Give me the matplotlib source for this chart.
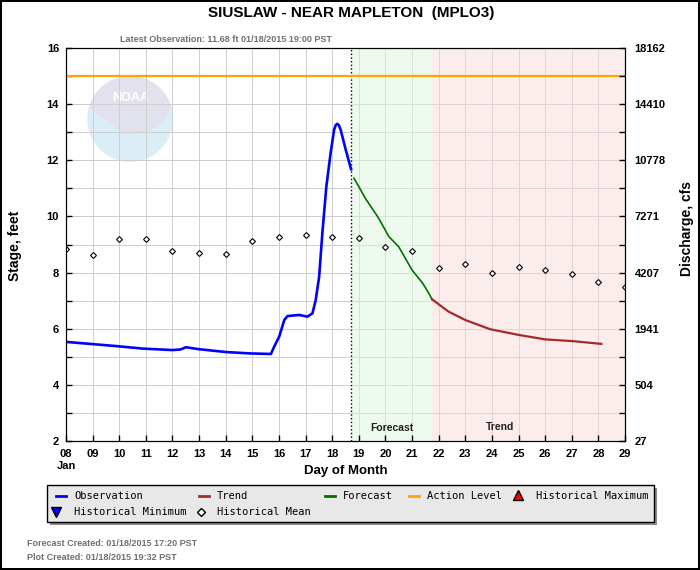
import matplotlib
matplotlib.use("Agg")
import matplotlib.pyplot as plt
import numpy as np
from matplotlib.patches import Ellipse, Polygon, Rectangle
from matplotlib.lines import Line2D

plt.rcParams['font.family'] = ['Liberation Sans', 'DejaVu Sans']

obs_day = [8.0, 8.9, 9.9, 10.9, 12.0, 12.3, 12.5, 13.0, 14.0, 14.9, 15.7, 15.82,
           16.01, 16.2, 16.32, 16.76, 17.07, 17.26, 17.38, 17.51, 17.63, 17.78,
           17.94, 18.07, 18.13, 18.19, 18.25, 18.32, 18.51, 18.71]
obs_stage = [5.53, 5.46, 5.38, 5.29, 5.24, 5.26, 5.34, 5.27, 5.17, 5.12, 5.10, 5.36,
             5.72, 6.31, 6.45, 6.49, 6.43, 6.55, 7.02, 7.85, 9.40, 11.06,
             12.25, 13.08, 13.25, 13.30, 13.25, 13.08, 12.37, 11.68]

fcst_day = [18.82, 19.25, 19.75, 20.13, 20.5, 21.0, 21.4, 21.63, 21.75]
fcst_stage = [11.36, 10.64, 9.93, 9.28, 8.92, 8.09, 7.62, 7.26, 7.05]

trend_day = [21.75, 22.0, 22.37, 23.0, 23.94, 25.0, 26.0, 27.0, 28.11]
trend_stage = [7.05, 6.87, 6.61, 6.31, 5.98, 5.78, 5.62, 5.56, 5.46]

mean_day = list(range(8, 30))
mean_stage = [8.84, 8.63, 9.20, 9.20, 8.77, 8.70, 8.66, 9.12, 9.27, 9.34, 9.27,
              9.23, 8.91, 8.77, 8.16, 8.29, 8.00, 8.19, 8.08, 7.94, 7.65, 7.50]

action_level = 15.0
last_obs_day = 18.71
fcst_end_day = 21.75

stage_ticks = [2, 4, 6, 8, 10, 12, 14, 16]
flow_labels = ['27', '504', '1941', '4207', '7271', '10778', '14410', '18162']
day_ticks = list(range(8, 30))

W, H = 700, 570
fig = plt.figure(figsize=(W / 100, H / 100), dpi=100)
fig.patch.set_edgecolor('black')
fig.patch.set_linewidth(1.5)

ax = fig.add_axes([66 / W, 1 - 441 / H, (625 - 66) / W, (441 - 48) / H])
ax.set_xlim(8, 29)
ax.set_ylim(2, 16)
ax.set_xticks(day_ticks)
ax.set_xticklabels(['%02d' % d for d in day_ticks])
ax.set_yticks(stage_ticks)
ax.set_yticks(range(2, 17), minor=True)
ax.tick_params(which='both', direction='in', length=4, width=1, labelsize=8)
ax.tick_params(axis='x', pad=6)
ax.tick_params(axis='y', pad=5)
for lab in ax.get_xticklabels() + ax.get_yticklabels():
    lab.set_fontweight('bold')

# faint NOAA logo
cx, cy = 10.41, 13.47
rx, ry = 1.61, 1.53
ax.add_patch(Ellipse((cx, cy), 2 * rx, 2 * ry, color='#dbeef7', lw=0, zorder=0.6))
t = np.linspace(0.08 * np.pi, 0.92 * np.pi, 40)
cap = [(cx + rx * np.cos(a), cy + ry * np.sin(a)) for a in t]
cap += [(cx - 0.9, cy - 0.05), (cx - 0.2, cy - 0.55), (cx + 0.6, cy - 0.5),
        (cx + 1.2, cy - 0.1)]
ax.add_patch(Polygon(cap, color='#e1e2ee', lw=0, zorder=0.65))
ax.text(cx, cy + 0.75, 'NOAA', color='white', fontsize=9, fontweight='bold',
        ha='center', va='center', zorder=0.7)

# grid: crisp one-pixel lines under the shading
ax.vlines(day_ticks, 2, 16, colors='#cfcfcf', lw=0.72, zorder=0.9,
          antialiased=False)
ax.hlines(range(3, 16), 8, 29, colors='#cfcfcf', lw=0.72, zorder=0.9,
          antialiased=False)

ax2 = ax.twinx()
ax2.set_ylim(2, 16)
ax2.set_yticks(stage_ticks)
ax2.set_yticks(range(2, 17), minor=True)
ax2.set_yticklabels(flow_labels, fontweight='bold')
ax2.tick_params(which='both', direction='in', length=4, width=1, labelsize=8, pad=7)

# shading for forecast / trend periods
ax.axvspan(last_obs_day, fcst_end_day, color='#dff6df', alpha=0.5, lw=0, zorder=1)
ax.axvspan(fcst_end_day, 29, color='#f9d9d9', alpha=0.45, lw=0, zorder=1)
ax.axvline(last_obs_day, color='black', ls=':', lw=1, zorder=3)

ax.axhline(action_level, color='#ffa500', lw=1.6, zorder=4)
ax.plot(obs_day, obs_stage, color='#0000ff', lw=1.9, zorder=5)
ax.plot(fcst_day, fcst_stage, color='#007000', lw=1.2, zorder=5)
ax.plot(trend_day, trend_stage, color='#a52a2a', lw=1.6, zorder=5)
ax.plot(mean_day, mean_stage, ls='none', marker='D', ms=3.0, mfc='white',
        mec='black', mew=0.8, zorder=6)

ax.text(20.25, 2.45, 'Forecast', fontsize=7.5, fontweight='bold', ha='center',
        va='center', color='#202020')
ax.text(24.3, 2.5, 'Trend', fontsize=7.5, fontweight='bold', ha='center',
        va='center', color='#202020')

# titles and axis labels
fig.text(351 / W, 1 - 13 / H, 'SIUSLAW - NEAR MAPLETON  (MPLO3)', fontsize=11,
         fontweight='bold', ha='center', va='center')
fig.text(226 / W, 1 - 40 / H, 'Latest Observation: 11.68 ft 01/18/2015 19:00 PST',
         fontsize=6.5, fontweight='bold', color='#707070', ha='center', va='center')
fig.text(66 / W, 1 - 466 / H, 'Jan', fontsize=8, fontweight='bold', ha='center',
         va='center')
fig.text(346 / W, 1 - 471 / H, 'Day of Month', fontsize=9.5, fontweight='bold',
         ha='center', va='center')
fig.text(15 / W, 1 - 246 / H, 'Stage, feet', fontsize=10, fontweight='bold',
         rotation=90, ha='center', va='center')
fig.text(687 / W, 1 - 228 / H, 'Discharge, cfs', fontsize=10, fontweight='bold',
         rotation=90, ha='center', va='center')

# legend box drawn by hand
fig.patches.append(Rectangle((50 / W, 1 - 525 / H), 607 / W, 37 / H,
                             transform=fig.transFigure, color='#8c8c8c', lw=0))
fig.patches.append(Rectangle((47 / W, 1 - 522 / H), 607 / W, 37 / H,
                             transform=fig.transFigure, facecolor='#e8e8e8',
                             edgecolor='black', lw=1))

def leg_line(x, y, color):
    fig.lines.append(Line2D([x / W, (x + 10) / W], [1 - y / H, 1 - y / H],
                            transform=fig.transFigure, color=color, lw=2))

def leg_mark(x, y, marker, fc, ec, ms):
    fig.lines.append(Line2D([x / W], [1 - y / H], transform=fig.transFigure,
                            marker=marker, mfc=fc, mec=ec, ms=ms, ls='none'))

def leg_text(x, y, s):
    fig.text(x / W, 1 - y / H, s, fontsize=7.5, family='DejaVu Sans Mono',
             ha='left', va='center')

leg_line(56, 496, '#0000ff'); leg_text(74, 496, 'Observation')
leg_line(199, 496, '#a52a2a'); leg_text(217, 496, 'Trend')
leg_line(325, 496, '#007000'); leg_text(343, 496, 'Forecast')
leg_line(409, 496, '#ffa500'); leg_text(427, 496, 'Action Level')
leg_mark(518, 495, '^', 'red', 'black', 7); leg_text(536, 496, 'Historical Maximum')
leg_mark(56, 512, 'v', 'blue', 'black', 7); leg_text(74, 512, 'Historical Minimum')
leg_mark(201, 512, 'D', 'white', 'black', 4); leg_text(217, 512, 'Historical Mean')

fig.text(27 / W, 1 - 544 / H, 'Forecast Created: 01/18/2015 17:20 PST', fontsize=6.5,
         fontweight='bold', color='#707070', ha='left', va='center')
fig.text(27 / W, 1 - 557 / H, 'Plot Created: 01/18/2015 19:32 PST', fontsize=6.5,
         fontweight='bold', color='#707070', ha='left', va='center')

fig.savefig('out.png', dpi=100, edgecolor=fig.get_edgecolor())
